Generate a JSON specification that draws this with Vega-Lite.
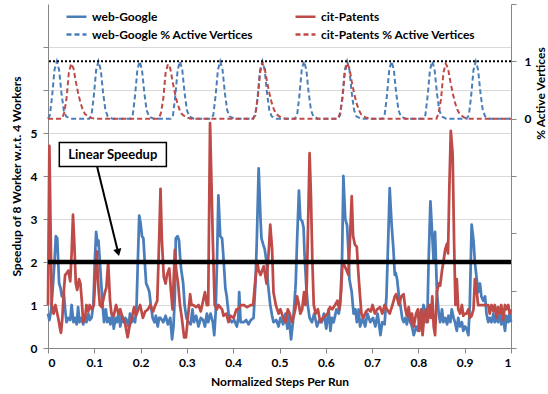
{
"$schema": "https://vega.github.io/schema/vega-lite/v6.json",
"width": 463, "height": 344, "autosize": "none",
"padding": {"left": 48, "top": 4, "right": 37, "bottom": 46},
"background": "white",
"config": {
 "font": "Lato",
 "view": {"stroke": null},
 "axis": {"labelFont": "Lato", "labelFontSize": 12, "labelFontWeight": "bold", "labelColor": "#000000", "titleFont": "Lato", "titleFontSize": 12, "titleFontWeight": "bold", "titleColor": "#000000", "domainColor": "#868686", "tickColor": "#868686", "gridColor": "#d9d9d9", "tickSize": 5}
},
"datasets": {
 "speedup": [
{"series":"web-Google","step":0.000,"speedup":0.8},{"series":"web-Google","step":0.003,"speedup":0.65},{"series":"web-Google","step":0.007,"speedup":0.9},{"series":"web-Google","step":0.011,"speedup":1.5},{"series":"web-Google","step":0.014,"speedup":2.0},{"series":"web-Google","step":0.017,"speedup":2.6},{"series":"web-Google","step":0.020,"speedup":2.55},{"series":"web-Google","step":0.024,"speedup":1.5},{"series":"web-Google","step":0.027,"speedup":1.4},{"series":"web-Google","step":0.030,"speedup":1.2},{"series":"web-Google","step":0.034,"speedup":1.3},{"series":"web-Google","step":0.037,"speedup":0.9},{"series":"web-Google","step":0.040,"speedup":0.6},{"series":"web-Google","step":0.044,"speedup":0.7},{"series":"web-Google","step":0.048,"speedup":0.65},{"series":"web-Google","step":0.051,"speedup":1.0},{"series":"web-Google","step":0.055,"speedup":0.6},{"series":"web-Google","step":0.058,"speedup":0.7},{"series":"web-Google","step":0.062,"speedup":0.55},{"series":"web-Google","step":0.065,"speedup":0.95},{"series":"web-Google","step":0.068,"speedup":0.6},{"series":"web-Google","step":0.072,"speedup":0.7},{"series":"web-Google","step":0.076,"speedup":0.55},{"series":"web-Google","step":0.080,"speedup":0.75},{"series":"web-Google","step":0.083,"speedup":0.6},{"series":"web-Google","step":0.087,"speedup":0.8},{"series":"web-Google","step":0.090,"speedup":0.65},{"series":"web-Google","step":0.094,"speedup":0.7},{"series":"web-Google","step":0.098,"speedup":1.0},{"series":"web-Google","step":0.101,"speedup":2.0},{"series":"web-Google","step":0.104,"speedup":2.7},{"series":"web-Google","step":0.107,"speedup":2.4},{"series":"web-Google","step":0.109,"speedup":2.5},{"series":"web-Google","step":0.112,"speedup":2.0},{"series":"web-Google","step":0.115,"speedup":1.5},{"series":"web-Google","step":0.118,"speedup":1.0},{"series":"web-Google","step":0.121,"speedup":0.6},{"series":"web-Google","step":0.125,"speedup":0.9},{"series":"web-Google","step":0.128,"speedup":0.6},{"series":"web-Google","step":0.132,"speedup":0.7},{"series":"web-Google","step":0.135,"speedup":0.55},{"series":"web-Google","step":0.139,"speedup":0.8},{"series":"web-Google","step":0.142,"speedup":0.45},{"series":"web-Google","step":0.146,"speedup":0.7},{"series":"web-Google","step":0.149,"speedup":0.6},{"series":"web-Google","step":0.153,"speedup":0.85},{"series":"web-Google","step":0.156,"speedup":0.5},{"series":"web-Google","step":0.160,"speedup":0.75},{"series":"web-Google","step":0.163,"speedup":0.6},{"series":"web-Google","step":0.167,"speedup":0.7},{"series":"web-Google","step":0.170,"speedup":0.65},{"series":"web-Google","step":0.174,"speedup":0.5},{"series":"web-Google","step":0.177,"speedup":0.8},{"series":"web-Google","step":0.181,"speedup":0.6},{"series":"web-Google","step":0.184,"speedup":0.7},{"series":"web-Google","step":0.188,"speedup":0.6},{"series":"web-Google","step":0.191,"speedup":0.9},{"series":"web-Google","step":0.194,"speedup":2.0},{"series":"web-Google","step":0.197,"speedup":3.08},{"series":"web-Google","step":0.200,"speedup":2.9},{"series":"web-Google","step":0.203,"speedup":2.6},{"series":"web-Google","step":0.206,"speedup":2.55},{"series":"web-Google","step":0.209,"speedup":2.0},{"series":"web-Google","step":0.212,"speedup":1.5},{"series":"web-Google","step":0.216,"speedup":1.4},{"series":"web-Google","step":0.219,"speedup":1.3},{"series":"web-Google","step":0.222,"speedup":1.0},{"series":"web-Google","step":0.226,"speedup":0.7},{"series":"web-Google","step":0.230,"speedup":0.6},{"series":"web-Google","step":0.233,"speedup":0.75},{"series":"web-Google","step":0.237,"speedup":0.5},{"series":"web-Google","step":0.240,"speedup":0.7},{"series":"web-Google","step":0.243,"speedup":0.7},{"series":"web-Google","step":0.249,"speedup":0.6},{"series":"web-Google","step":0.254,"speedup":0.75},{"series":"web-Google","step":0.259,"speedup":0.55},{"series":"web-Google","step":0.264,"speedup":0.7},{"series":"web-Google","step":0.268,"speedup":0.2},{"series":"web-Google","step":0.271,"speedup":0.5},{"series":"web-Google","step":0.274,"speedup":1.2},{"series":"web-Google","step":0.276,"speedup":2.55},{"series":"web-Google","step":0.280,"speedup":2.6},{"series":"web-Google","step":0.283,"speedup":2.5},{"series":"web-Google","step":0.286,"speedup":2.0},{"series":"web-Google","step":0.288,"speedup":1.8},{"series":"web-Google","step":0.292,"speedup":1.5},{"series":"web-Google","step":0.295,"speedup":1.0},{"series":"web-Google","step":0.299,"speedup":0.7},{"series":"web-Google","step":0.303,"speedup":0.6},{"series":"web-Google","step":0.308,"speedup":0.55},{"series":"web-Google","step":0.312,"speedup":0.9},{"series":"web-Google","step":0.315,"speedup":0.6},{"series":"web-Google","step":0.320,"speedup":0.75},{"series":"web-Google","step":0.325,"speedup":0.5},{"series":"web-Google","step":0.330,"speedup":0.7},{"series":"web-Google","step":0.335,"speedup":0.65},{"series":"web-Google","step":0.339,"speedup":0.5},{"series":"web-Google","step":0.343,"speedup":0.8},{"series":"web-Google","step":0.346,"speedup":0.6},{"series":"web-Google","step":0.351,"speedup":0.8},{"series":"web-Google","step":0.356,"speedup":0.6},{"series":"web-Google","step":0.359,"speedup":0.3},{"series":"web-Google","step":0.362,"speedup":0.8},{"series":"web-Google","step":0.365,"speedup":2.0},{"series":"web-Google","step":0.368,"speedup":3.55},{"series":"web-Google","step":0.372,"speedup":2.6},{"series":"web-Google","step":0.376,"speedup":2.55},{"series":"web-Google","step":0.379,"speedup":2.1},{"series":"web-Google","step":0.383,"speedup":1.4},{"series":"web-Google","step":0.386,"speedup":1.2},{"series":"web-Google","step":0.391,"speedup":0.7},{"series":"web-Google","step":0.397,"speedup":0.6},{"series":"web-Google","step":0.402,"speedup":0.65},{"series":"web-Google","step":0.408,"speedup":0.5},{"series":"web-Google","step":0.411,"speedup":0.7},{"series":"web-Google","step":0.413,"speedup":1.3},{"series":"web-Google","step":0.416,"speedup":0.6},{"series":"web-Google","step":0.423,"speedup":0.6},{"series":"web-Google","step":0.428,"speedup":0.65},{"series":"web-Google","step":0.433,"speedup":0.55},{"series":"web-Google","step":0.438,"speedup":0.65},{"series":"web-Google","step":0.444,"speedup":0.7},{"series":"web-Google","step":0.448,"speedup":1.5},{"series":"web-Google","step":0.451,"speedup":2.5},{"series":"web-Google","step":0.455,"speedup":4.18},{"series":"web-Google","step":0.459,"speedup":3.0},{"series":"web-Google","step":0.461,"speedup":2.55},{"series":"web-Google","step":0.465,"speedup":2.4},{"series":"web-Google","step":0.468,"speedup":2.3},{"series":"web-Google","step":0.472,"speedup":2.0},{"series":"web-Google","step":0.475,"speedup":1.5},{"series":"web-Google","step":0.480,"speedup":1.0},{"series":"web-Google","step":0.484,"speedup":0.75},{"series":"web-Google","step":0.487,"speedup":0.6},{"series":"web-Google","step":0.493,"speedup":0.65},{"series":"web-Google","step":0.498,"speedup":0.5},{"series":"web-Google","step":0.502,"speedup":0.7},{"series":"web-Google","step":0.508,"speedup":0.55},{"series":"web-Google","step":0.513,"speedup":0.8},{"series":"web-Google","step":0.517,"speedup":0.45},{"series":"web-Google","step":0.520,"speedup":0.75},{"series":"web-Google","step":0.525,"speedup":0.2},{"series":"web-Google","step":0.529,"speedup":0.6},{"series":"web-Google","step":0.532,"speedup":1.0},{"series":"web-Google","step":0.535,"speedup":1.5},{"series":"web-Google","step":0.538,"speedup":2.5},{"series":"web-Google","step":0.542,"speedup":3.66},{"series":"web-Google","step":0.545,"speedup":3.0},{"series":"web-Google","step":0.549,"speedup":2.95},{"series":"web-Google","step":0.552,"speedup":2.8},{"series":"web-Google","step":0.554,"speedup":2.2},{"series":"web-Google","step":0.558,"speedup":1.4},{"series":"web-Google","step":0.561,"speedup":1.0},{"series":"web-Google","step":0.565,"speedup":0.7},{"series":"web-Google","step":0.570,"speedup":0.6},{"series":"web-Google","step":0.575,"speedup":0.8},{"series":"web-Google","step":0.581,"speedup":0.5},{"series":"web-Google","step":0.586,"speedup":0.65},{"series":"web-Google","step":0.591,"speedup":0.6},{"series":"web-Google","step":0.596,"speedup":0.8},{"series":"web-Google","step":0.601,"speedup":0.45},{"series":"web-Google","step":0.606,"speedup":0.9},{"series":"web-Google","step":0.610,"speedup":0.4},{"series":"web-Google","step":0.613,"speedup":0.7},{"series":"web-Google","step":0.617,"speedup":0.6},{"series":"web-Google","step":0.623,"speedup":0.9},{"series":"web-Google","step":0.628,"speedup":0.8},{"series":"web-Google","step":0.631,"speedup":1.0},{"series":"web-Google","step":0.635,"speedup":2.0},{"series":"web-Google","step":0.638,"speedup":4.0},{"series":"web-Google","step":0.642,"speedup":3.0},{"series":"web-Google","step":0.646,"speedup":2.85},{"series":"web-Google","step":0.649,"speedup":2.2},{"series":"web-Google","step":0.651,"speedup":1.6},{"series":"web-Google","step":0.656,"speedup":1.3},{"series":"web-Google","step":0.660,"speedup":0.8},{"series":"web-Google","step":0.664,"speedup":0.9},{"series":"web-Google","step":0.667,"speedup":0.6},{"series":"web-Google","step":0.671,"speedup":0.9},{"series":"web-Google","step":0.674,"speedup":0.5},{"series":"web-Google","step":0.680,"speedup":0.7},{"series":"web-Google","step":0.685,"speedup":0.5},{"series":"web-Google","step":0.690,"speedup":0.8},{"series":"web-Google","step":0.696,"speedup":0.6},{"series":"web-Google","step":0.702,"speedup":0.7},{"series":"web-Google","step":0.707,"speedup":0.5},{"series":"web-Google","step":0.712,"speedup":0.8},{"series":"web-Google","step":0.718,"speedup":0.3},{"series":"web-Google","step":0.722,"speedup":0.6},{"series":"web-Google","step":0.727,"speedup":0.55},{"series":"web-Google","step":0.731,"speedup":1.2},{"series":"web-Google","step":0.735,"speedup":2.6},{"series":"web-Google","step":0.738,"speedup":3.72},{"series":"web-Google","step":0.742,"speedup":2.9},{"series":"web-Google","step":0.746,"speedup":2.3},{"series":"web-Google","step":0.749,"speedup":1.7},{"series":"web-Google","step":0.751,"speedup":1.75},{"series":"web-Google","step":0.754,"speedup":1.6},{"series":"web-Google","step":0.758,"speedup":1.2},{"series":"web-Google","step":0.761,"speedup":1.0},{"series":"web-Google","step":0.765,"speedup":0.7},{"series":"web-Google","step":0.768,"speedup":0.6},{"series":"web-Google","step":0.772,"speedup":0.7},{"series":"web-Google","step":0.775,"speedup":0.55},{"series":"web-Google","step":0.779,"speedup":0.75},{"series":"web-Google","step":0.783,"speedup":0.6},{"series":"web-Google","step":0.786,"speedup":0.5},{"series":"web-Google","step":0.790,"speedup":0.3},{"series":"web-Google","step":0.795,"speedup":0.5},{"series":"web-Google","step":0.799,"speedup":0.4},{"series":"web-Google","step":0.804,"speedup":0.75},{"series":"web-Google","step":0.808,"speedup":0.7},{"series":"web-Google","step":0.811,"speedup":1.0},{"series":"web-Google","step":0.815,"speedup":0.8},{"series":"web-Google","step":0.817,"speedup":0.6},{"series":"web-Google","step":0.820,"speedup":1.0},{"series":"web-Google","step":0.822,"speedup":2.0},{"series":"web-Google","step":0.826,"speedup":3.41},{"series":"web-Google","step":0.829,"speedup":2.8},{"series":"web-Google","step":0.833,"speedup":2.0},{"series":"web-Google","step":0.836,"speedup":2.7},{"series":"web-Google","step":0.840,"speedup":1.3},{"series":"web-Google","step":0.844,"speedup":0.8},{"series":"web-Google","step":0.847,"speedup":0.6},{"series":"web-Google","step":0.851,"speedup":0.9},{"series":"web-Google","step":0.854,"speedup":0.6},{"series":"web-Google","step":0.858,"speedup":0.7},{"series":"web-Google","step":0.862,"speedup":0.55},{"series":"web-Google","step":0.865,"speedup":0.75},{"series":"web-Google","step":0.869,"speedup":0.6},{"series":"web-Google","step":0.872,"speedup":0.9},{"series":"web-Google","step":0.876,"speedup":0.7},{"series":"web-Google","step":0.879,"speedup":0.6},{"series":"web-Google","step":0.883,"speedup":0.4},{"series":"web-Google","step":0.886,"speedup":0.7},{"series":"web-Google","step":0.890,"speedup":0.5},{"series":"web-Google","step":0.894,"speedup":0.6},{"series":"web-Google","step":0.897,"speedup":0.4},{"series":"web-Google","step":0.901,"speedup":0.5},{"series":"web-Google","step":0.904,"speedup":0.45},{"series":"web-Google","step":0.908,"speedup":0.3},{"series":"web-Google","step":0.911,"speedup":1.0},{"series":"web-Google","step":0.915,"speedup":2.87},{"series":"web-Google","step":0.919,"speedup":2.5},{"series":"web-Google","step":0.922,"speedup":2.0},{"series":"web-Google","step":0.926,"speedup":1.6},{"series":"web-Google","step":0.929,"speedup":1.3},{"series":"web-Google","step":0.933,"speedup":1.5},{"series":"web-Google","step":0.936,"speedup":1.2},{"series":"web-Google","step":0.940,"speedup":1.1},{"series":"web-Google","step":0.944,"speedup":1.2},{"series":"web-Google","step":0.947,"speedup":0.8},{"series":"web-Google","step":0.951,"speedup":0.6},{"series":"web-Google","step":0.954,"speedup":0.7},{"series":"web-Google","step":0.958,"speedup":0.6},{"series":"web-Google","step":0.962,"speedup":0.8},{"series":"web-Google","step":0.965,"speedup":0.6},{"series":"web-Google","step":0.969,"speedup":0.75},{"series":"web-Google","step":0.972,"speedup":0.6},{"series":"web-Google","step":0.976,"speedup":0.8},{"series":"web-Google","step":0.979,"speedup":0.55},{"series":"web-Google","step":0.983,"speedup":0.7},{"series":"web-Google","step":0.987,"speedup":0.4},{"series":"web-Google","step":0.990,"speedup":0.75},{"series":"web-Google","step":0.994,"speedup":0.6},{"series":"web-Google","step":0.997,"speedup":0.8},{"series":"web-Google","step":1.000,"speedup":0.6},
{"series":"cit-Patents","step":0.000,"speedup":1.0},{"series":"cit-Patents","step":0.003,"speedup":4.7},{"series":"cit-Patents","step":0.008,"speedup":1.0},{"series":"cit-Patents","step":0.012,"speedup":0.8},{"series":"cit-Patents","step":0.016,"speedup":1.0},{"series":"cit-Patents","step":0.018,"speedup":0.9},{"series":"cit-Patents","step":0.022,"speedup":0.7},{"series":"cit-Patents","step":0.026,"speedup":0.45},{"series":"cit-Patents","step":0.028,"speedup":0.35},{"series":"cit-Patents","step":0.031,"speedup":0.7},{"series":"cit-Patents","step":0.034,"speedup":1.3},{"series":"cit-Patents","step":0.037,"speedup":1.7},{"series":"cit-Patents","step":0.041,"speedup":1.75},{"series":"cit-Patents","step":0.044,"speedup":1.8},{"series":"cit-Patents","step":0.048,"speedup":1.55},{"series":"cit-Patents","step":0.051,"speedup":2.2},{"series":"cit-Patents","step":0.054,"speedup":3.1},{"series":"cit-Patents","step":0.057,"speedup":2.4},{"series":"cit-Patents","step":0.060,"speedup":1.5},{"series":"cit-Patents","step":0.063,"speedup":1.35},{"series":"cit-Patents","step":0.067,"speedup":1.6},{"series":"cit-Patents","step":0.070,"speedup":1.5},{"series":"cit-Patents","step":0.073,"speedup":1.1},{"series":"cit-Patents","step":0.076,"speedup":0.6},{"series":"cit-Patents","step":0.080,"speedup":0.7},{"series":"cit-Patents","step":0.083,"speedup":1.0},{"series":"cit-Patents","step":0.087,"speedup":0.85},{"series":"cit-Patents","step":0.090,"speedup":1.0},{"series":"cit-Patents","step":0.094,"speedup":0.9},{"series":"cit-Patents","step":0.099,"speedup":1.0},{"series":"cit-Patents","step":0.102,"speedup":1.6},{"series":"cit-Patents","step":0.105,"speedup":2.25},{"series":"cit-Patents","step":0.109,"speedup":1.4},{"series":"cit-Patents","step":0.112,"speedup":1.0},{"series":"cit-Patents","step":0.116,"speedup":0.95},{"series":"cit-Patents","step":0.119,"speedup":1.1},{"series":"cit-Patents","step":0.123,"speedup":1.3},{"series":"cit-Patents","step":0.126,"speedup":1.4},{"series":"cit-Patents","step":0.130,"speedup":2.0},{"series":"cit-Patents","step":0.134,"speedup":1.1},{"series":"cit-Patents","step":0.137,"speedup":0.8},{"series":"cit-Patents","step":0.142,"speedup":0.75},{"series":"cit-Patents","step":0.147,"speedup":1.0},{"series":"cit-Patents","step":0.152,"speedup":0.8},{"series":"cit-Patents","step":0.156,"speedup":0.9},{"series":"cit-Patents","step":0.161,"speedup":0.7},{"series":"cit-Patents","step":0.166,"speedup":0.6},{"series":"cit-Patents","step":0.172,"speedup":0.25},{"series":"cit-Patents","step":0.176,"speedup":0.5},{"series":"cit-Patents","step":0.181,"speedup":0.7},{"series":"cit-Patents","step":0.186,"speedup":0.95},{"series":"cit-Patents","step":0.190,"speedup":0.75},{"series":"cit-Patents","step":0.195,"speedup":0.9},{"series":"cit-Patents","step":0.199,"speedup":1.0},{"series":"cit-Patents","step":0.205,"speedup":0.7},{"series":"cit-Patents","step":0.210,"speedup":0.85},{"series":"cit-Patents","step":0.216,"speedup":0.9},{"series":"cit-Patents","step":0.221,"speedup":1.0},{"series":"cit-Patents","step":0.227,"speedup":0.85},{"series":"cit-Patents","step":0.232,"speedup":1.0},{"series":"cit-Patents","step":0.236,"speedup":1.1},{"series":"cit-Patents","step":0.240,"speedup":2.5},{"series":"cit-Patents","step":0.243,"speedup":3.7},{"series":"cit-Patents","step":0.246,"speedup":2.5},{"series":"cit-Patents","step":0.250,"speedup":1.65},{"series":"cit-Patents","step":0.254,"speedup":1.5},{"series":"cit-Patents","step":0.257,"speedup":1.7},{"series":"cit-Patents","step":0.262,"speedup":1.85},{"series":"cit-Patents","step":0.265,"speedup":1.4},{"series":"cit-Patents","step":0.269,"speedup":0.9},{"series":"cit-Patents","step":0.274,"speedup":2.28},{"series":"cit-Patents","step":0.277,"speedup":1.8},{"series":"cit-Patents","step":0.281,"speedup":1.5},{"series":"cit-Patents","step":0.285,"speedup":1.0},{"series":"cit-Patents","step":0.289,"speedup":0.7},{"series":"cit-Patents","step":0.294,"speedup":0.25},{"series":"cit-Patents","step":0.298,"speedup":0.25},{"series":"cit-Patents","step":0.303,"speedup":0.8},{"series":"cit-Patents","step":0.307,"speedup":1.25},{"series":"cit-Patents","step":0.310,"speedup":1.0},{"series":"cit-Patents","step":0.314,"speedup":1.0},{"series":"cit-Patents","step":0.320,"speedup":0.95},{"series":"cit-Patents","step":0.325,"speedup":1.0},{"series":"cit-Patents","step":0.330,"speedup":0.85},{"series":"cit-Patents","step":0.335,"speedup":1.1},{"series":"cit-Patents","step":0.339,"speedup":1.3},{"series":"cit-Patents","step":0.343,"speedup":1.0},{"series":"cit-Patents","step":0.346,"speedup":1.0},{"series":"cit-Patents","step":0.350,"speedup":5.23},{"series":"cit-Patents","step":0.356,"speedup":2.5},{"series":"cit-Patents","step":0.360,"speedup":1.0},{"series":"cit-Patents","step":0.365,"speedup":0.9},{"series":"cit-Patents","step":0.368,"speedup":1.0},{"series":"cit-Patents","step":0.376,"speedup":0.9},{"series":"cit-Patents","step":0.379,"speedup":0.75},{"series":"cit-Patents","step":0.385,"speedup":0.8},{"series":"cit-Patents","step":0.390,"speedup":0.6},{"series":"cit-Patents","step":0.394,"speedup":0.75},{"series":"cit-Patents","step":0.401,"speedup":0.7},{"series":"cit-Patents","step":0.407,"speedup":0.9},{"series":"cit-Patents","step":0.412,"speedup":0.9},{"series":"cit-Patents","step":0.416,"speedup":1.0},{"series":"cit-Patents","step":0.423,"speedup":1.0},{"series":"cit-Patents","step":0.430,"speedup":0.95},{"series":"cit-Patents","step":0.438,"speedup":1.0},{"series":"cit-Patents","step":0.443,"speedup":1.0},{"series":"cit-Patents","step":0.448,"speedup":1.6},{"series":"cit-Patents","step":0.452,"speedup":2.0},{"series":"cit-Patents","step":0.455,"speedup":1.8},{"series":"cit-Patents","step":0.459,"speedup":1.7},{"series":"cit-Patents","step":0.466,"speedup":1.9},{"series":"cit-Patents","step":0.472,"speedup":1.5},{"series":"cit-Patents","step":0.477,"speedup":2.3},{"series":"cit-Patents","step":0.480,"speedup":2.87},{"series":"cit-Patents","step":0.484,"speedup":2.3},{"series":"cit-Patents","step":0.487,"speedup":1.3},{"series":"cit-Patents","step":0.492,"speedup":1.0},{"series":"cit-Patents","step":0.498,"speedup":0.8},{"series":"cit-Patents","step":0.502,"speedup":0.9},{"series":"cit-Patents","step":0.508,"speedup":0.7},{"series":"cit-Patents","step":0.513,"speedup":0.6},{"series":"cit-Patents","step":0.518,"speedup":0.9},{"series":"cit-Patents","step":0.522,"speedup":0.8},{"series":"cit-Patents","step":0.527,"speedup":0.6},{"series":"cit-Patents","step":0.531,"speedup":0.75},{"series":"cit-Patents","step":0.534,"speedup":0.9},{"series":"cit-Patents","step":0.538,"speedup":1.2},{"series":"cit-Patents","step":0.542,"speedup":1.0},{"series":"cit-Patents","step":0.545,"speedup":0.8},{"series":"cit-Patents","step":0.549,"speedup":0.9},{"series":"cit-Patents","step":0.553,"speedup":1.3},{"series":"cit-Patents","step":0.556,"speedup":1.0},{"series":"cit-Patents","step":0.559,"speedup":1.5},{"series":"cit-Patents","step":0.563,"speedup":3.5},{"series":"cit-Patents","step":0.565,"speedup":4.53},{"series":"cit-Patents","step":0.568,"speedup":3.5},{"series":"cit-Patents","step":0.571,"speedup":2.0},{"series":"cit-Patents","step":0.574,"speedup":1.0},{"series":"cit-Patents","step":0.578,"speedup":0.8},{"series":"cit-Patents","step":0.583,"speedup":0.9},{"series":"cit-Patents","step":0.588,"speedup":0.6},{"series":"cit-Patents","step":0.594,"speedup":0.7},{"series":"cit-Patents","step":0.599,"speedup":0.75},{"series":"cit-Patents","step":0.604,"speedup":0.8},{"series":"cit-Patents","step":0.609,"speedup":0.95},{"series":"cit-Patents","step":0.614,"speedup":0.9},{"series":"cit-Patents","step":0.620,"speedup":1.0},{"series":"cit-Patents","step":0.625,"speedup":1.1},{"series":"cit-Patents","step":0.629,"speedup":0.9},{"series":"cit-Patents","step":0.633,"speedup":1.3},{"series":"cit-Patents","step":0.636,"speedup":2.0},{"series":"cit-Patents","step":0.641,"speedup":1.9},{"series":"cit-Patents","step":0.645,"speedup":1.8},{"series":"cit-Patents","step":0.649,"speedup":1.7},{"series":"cit-Patents","step":0.652,"speedup":2.5},{"series":"cit-Patents","step":0.656,"speedup":3.53},{"series":"cit-Patents","step":0.659,"speedup":2.6},{"series":"cit-Patents","step":0.663,"speedup":2.4},{"series":"cit-Patents","step":0.667,"speedup":2.35},{"series":"cit-Patents","step":0.670,"speedup":1.8},{"series":"cit-Patents","step":0.674,"speedup":1.2},{"series":"cit-Patents","step":0.677,"speedup":0.8},{"series":"cit-Patents","step":0.681,"speedup":0.7},{"series":"cit-Patents","step":0.687,"speedup":0.85},{"series":"cit-Patents","step":0.692,"speedup":0.9},{"series":"cit-Patents","step":0.697,"speedup":0.85},{"series":"cit-Patents","step":0.701,"speedup":1.0},{"series":"cit-Patents","step":0.706,"speedup":0.8},{"series":"cit-Patents","step":0.711,"speedup":0.9},{"series":"cit-Patents","step":0.717,"speedup":0.95},{"series":"cit-Patents","step":0.722,"speedup":0.8},{"series":"cit-Patents","step":0.727,"speedup":1.0},{"series":"cit-Patents","step":0.732,"speedup":0.9},{"series":"cit-Patents","step":0.738,"speedup":0.8},{"series":"cit-Patents","step":0.744,"speedup":1.0},{"series":"cit-Patents","step":0.749,"speedup":1.2},{"series":"cit-Patents","step":0.752,"speedup":1.25},{"series":"cit-Patents","step":0.758,"speedup":1.0},{"series":"cit-Patents","step":0.763,"speedup":1.2},{"series":"cit-Patents","step":0.768,"speedup":1.25},{"series":"cit-Patents","step":0.772,"speedup":0.9},{"series":"cit-Patents","step":0.775,"speedup":0.75},{"series":"cit-Patents","step":0.779,"speedup":0.95},{"series":"cit-Patents","step":0.783,"speedup":0.6},{"series":"cit-Patents","step":0.786,"speedup":0.8},{"series":"cit-Patents","step":0.790,"speedup":0.5},{"series":"cit-Patents","step":0.795,"speedup":0.8},{"series":"cit-Patents","step":0.799,"speedup":0.9},{"series":"cit-Patents","step":0.802,"speedup":0.4},{"series":"cit-Patents","step":0.806,"speedup":0.9},{"series":"cit-Patents","step":0.809,"speedup":0.3},{"series":"cit-Patents","step":0.813,"speedup":0.8},{"series":"cit-Patents","step":0.817,"speedup":0.9},{"series":"cit-Patents","step":0.820,"speedup":0.6},{"series":"cit-Patents","step":0.824,"speedup":1.0},{"series":"cit-Patents","step":0.827,"speedup":0.7},{"series":"cit-Patents","step":0.830,"speedup":1.2},{"series":"cit-Patents","step":0.833,"speedup":0.5},{"series":"cit-Patents","step":0.836,"speedup":0.3},{"series":"cit-Patents","step":0.840,"speedup":1.3},{"series":"cit-Patents","step":0.844,"speedup":1.5},{"series":"cit-Patents","step":0.847,"speedup":1.45},{"series":"cit-Patents","step":0.851,"speedup":1.8},{"series":"cit-Patents","step":0.854,"speedup":2.0},{"series":"cit-Patents","step":0.858,"speedup":2.3},{"series":"cit-Patents","step":0.862,"speedup":2.43},{"series":"cit-Patents","step":0.864,"speedup":2.2},{"series":"cit-Patents","step":0.867,"speedup":3.8},{"series":"cit-Patents","step":0.870,"speedup":5.05},{"series":"cit-Patents","step":0.874,"speedup":4.5},{"series":"cit-Patents","step":0.877,"speedup":2.5},{"series":"cit-Patents","step":0.880,"speedup":1.0},{"series":"cit-Patents","step":0.883,"speedup":1.6},{"series":"cit-Patents","step":0.886,"speedup":0.9},{"series":"cit-Patents","step":0.890,"speedup":0.8},{"series":"cit-Patents","step":0.894,"speedup":1.0},{"series":"cit-Patents","step":0.897,"speedup":0.75},{"series":"cit-Patents","step":0.901,"speedup":0.8},{"series":"cit-Patents","step":0.904,"speedup":0.8},{"series":"cit-Patents","step":0.908,"speedup":0.9},{"series":"cit-Patents","step":0.911,"speedup":0.7},{"series":"cit-Patents","step":0.915,"speedup":0.75},{"series":"cit-Patents","step":0.919,"speedup":0.9},{"series":"cit-Patents","step":0.922,"speedup":1.6},{"series":"cit-Patents","step":0.926,"speedup":1.3},{"series":"cit-Patents","step":0.929,"speedup":1.0},{"series":"cit-Patents","step":0.933,"speedup":1.0},{"series":"cit-Patents","step":0.936,"speedup":1.0},{"series":"cit-Patents","step":0.944,"speedup":1.0},{"series":"cit-Patents","step":0.951,"speedup":1.0},{"series":"cit-Patents","step":0.954,"speedup":0.8},{"series":"cit-Patents","step":0.958,"speedup":1.0},{"series":"cit-Patents","step":0.962,"speedup":0.85},{"series":"cit-Patents","step":0.965,"speedup":1.0},{"series":"cit-Patents","step":0.969,"speedup":0.7},{"series":"cit-Patents","step":0.972,"speedup":0.95},{"series":"cit-Patents","step":0.976,"speedup":0.8},{"series":"cit-Patents","step":0.979,"speedup":1.0},{"series":"cit-Patents","step":0.983,"speedup":0.65},{"series":"cit-Patents","step":0.987,"speedup":1.0},{"series":"cit-Patents","step":0.990,"speedup":0.9},{"series":"cit-Patents","step":0.994,"speedup":1.0},{"series":"cit-Patents","step":0.997,"speedup":0.8},{"series":"cit-Patents","step":1.000,"speedup":0.9}
 ],
 "active": [
{"series":"web-Google % Active Vertices","step":0.0,"active":0},{"series":"web-Google % Active Vertices","step":0.004,"active":0.06},{"series":"web-Google % Active Vertices","step":0.009,"active":0.4},{"series":"web-Google % Active Vertices","step":0.014,"active":0.85},{"series":"web-Google % Active Vertices","step":0.019,"active":1},{"series":"web-Google % Active Vertices","step":0.024,"active":0.85},{"series":"web-Google % Active Vertices","step":0.029,"active":0.45},{"series":"web-Google % Active Vertices","step":0.034,"active":0.15},{"series":"web-Google % Active Vertices","step":0.039,"active":0.04},{"series":"web-Google % Active Vertices","step":0.049,"active":0},
{"series":"web-Google % Active Vertices","step":0.089,"active":0},{"series":"web-Google % Active Vertices","step":0.094,"active":0.06},{"series":"web-Google % Active Vertices","step":0.099,"active":0.4},{"series":"web-Google % Active Vertices","step":0.104,"active":0.85},{"series":"web-Google % Active Vertices","step":0.109,"active":1},{"series":"web-Google % Active Vertices","step":0.114,"active":0.85},{"series":"web-Google % Active Vertices","step":0.119,"active":0.45},{"series":"web-Google % Active Vertices","step":0.124,"active":0.15},{"series":"web-Google % Active Vertices","step":0.129,"active":0.04},{"series":"web-Google % Active Vertices","step":0.139,"active":0},
{"series":"web-Google % Active Vertices","step":0.178,"active":0},{"series":"web-Google % Active Vertices","step":0.183,"active":0.06},{"series":"web-Google % Active Vertices","step":0.188,"active":0.4},{"series":"web-Google % Active Vertices","step":0.193,"active":0.85},{"series":"web-Google % Active Vertices","step":0.198,"active":1},{"series":"web-Google % Active Vertices","step":0.203,"active":0.85},{"series":"web-Google % Active Vertices","step":0.208,"active":0.45},{"series":"web-Google % Active Vertices","step":0.213,"active":0.15},{"series":"web-Google % Active Vertices","step":0.218,"active":0.04},{"series":"web-Google % Active Vertices","step":0.228,"active":0},
{"series":"web-Google % Active Vertices","step":0.265,"active":0},{"series":"web-Google % Active Vertices","step":0.270,"active":0.06},{"series":"web-Google % Active Vertices","step":0.275,"active":0.4},{"series":"web-Google % Active Vertices","step":0.280,"active":0.85},{"series":"web-Google % Active Vertices","step":0.285,"active":1},{"series":"web-Google % Active Vertices","step":0.290,"active":0.85},{"series":"web-Google % Active Vertices","step":0.295,"active":0.45},{"series":"web-Google % Active Vertices","step":0.300,"active":0.15},{"series":"web-Google % Active Vertices","step":0.305,"active":0.04},{"series":"web-Google % Active Vertices","step":0.315,"active":0},
{"series":"web-Google % Active Vertices","step":0.352,"active":0},{"series":"web-Google % Active Vertices","step":0.357,"active":0.06},{"series":"web-Google % Active Vertices","step":0.362,"active":0.4},{"series":"web-Google % Active Vertices","step":0.367,"active":0.85},{"series":"web-Google % Active Vertices","step":0.372,"active":1},{"series":"web-Google % Active Vertices","step":0.377,"active":0.85},{"series":"web-Google % Active Vertices","step":0.382,"active":0.45},{"series":"web-Google % Active Vertices","step":0.387,"active":0.15},{"series":"web-Google % Active Vertices","step":0.392,"active":0.04},{"series":"web-Google % Active Vertices","step":0.402,"active":0},
{"series":"web-Google % Active Vertices","step":0.443,"active":0},{"series":"web-Google % Active Vertices","step":0.448,"active":0.06},{"series":"web-Google % Active Vertices","step":0.453,"active":0.4},{"series":"web-Google % Active Vertices","step":0.458,"active":0.85},{"series":"web-Google % Active Vertices","step":0.463,"active":1},{"series":"web-Google % Active Vertices","step":0.468,"active":0.85},{"series":"web-Google % Active Vertices","step":0.473,"active":0.45},{"series":"web-Google % Active Vertices","step":0.478,"active":0.15},{"series":"web-Google % Active Vertices","step":0.483,"active":0.04},{"series":"web-Google % Active Vertices","step":0.493,"active":0},
{"series":"web-Google % Active Vertices","step":0.533,"active":0},{"series":"web-Google % Active Vertices","step":0.538,"active":0.06},{"series":"web-Google % Active Vertices","step":0.543,"active":0.4},{"series":"web-Google % Active Vertices","step":0.548,"active":0.85},{"series":"web-Google % Active Vertices","step":0.553,"active":1},{"series":"web-Google % Active Vertices","step":0.558,"active":0.85},{"series":"web-Google % Active Vertices","step":0.563,"active":0.45},{"series":"web-Google % Active Vertices","step":0.568,"active":0.15},{"series":"web-Google % Active Vertices","step":0.573,"active":0.04},{"series":"web-Google % Active Vertices","step":0.583,"active":0},
{"series":"web-Google % Active Vertices","step":0.626,"active":0},{"series":"web-Google % Active Vertices","step":0.631,"active":0.06},{"series":"web-Google % Active Vertices","step":0.636,"active":0.4},{"series":"web-Google % Active Vertices","step":0.641,"active":0.85},{"series":"web-Google % Active Vertices","step":0.646,"active":1},{"series":"web-Google % Active Vertices","step":0.651,"active":0.85},{"series":"web-Google % Active Vertices","step":0.656,"active":0.45},{"series":"web-Google % Active Vertices","step":0.661,"active":0.15},{"series":"web-Google % Active Vertices","step":0.666,"active":0.04},{"series":"web-Google % Active Vertices","step":0.676,"active":0},
{"series":"web-Google % Active Vertices","step":0.722,"active":0},{"series":"web-Google % Active Vertices","step":0.727,"active":0.06},{"series":"web-Google % Active Vertices","step":0.732,"active":0.4},{"series":"web-Google % Active Vertices","step":0.737,"active":0.85},{"series":"web-Google % Active Vertices","step":0.742,"active":1},{"series":"web-Google % Active Vertices","step":0.747,"active":0.85},{"series":"web-Google % Active Vertices","step":0.752,"active":0.45},{"series":"web-Google % Active Vertices","step":0.757,"active":0.15},{"series":"web-Google % Active Vertices","step":0.762,"active":0.04},{"series":"web-Google % Active Vertices","step":0.772,"active":0},
{"series":"web-Google % Active Vertices","step":0.810,"active":0},{"series":"web-Google % Active Vertices","step":0.815,"active":0.06},{"series":"web-Google % Active Vertices","step":0.820,"active":0.4},{"series":"web-Google % Active Vertices","step":0.825,"active":0.85},{"series":"web-Google % Active Vertices","step":0.830,"active":1},{"series":"web-Google % Active Vertices","step":0.835,"active":0.85},{"series":"web-Google % Active Vertices","step":0.840,"active":0.45},{"series":"web-Google % Active Vertices","step":0.845,"active":0.15},{"series":"web-Google % Active Vertices","step":0.850,"active":0.04},{"series":"web-Google % Active Vertices","step":0.860,"active":0},
{"series":"web-Google % Active Vertices","step":0.904,"active":0},{"series":"web-Google % Active Vertices","step":0.909,"active":0.06},{"series":"web-Google % Active Vertices","step":0.914,"active":0.4},{"series":"web-Google % Active Vertices","step":0.919,"active":0.85},{"series":"web-Google % Active Vertices","step":0.924,"active":1},{"series":"web-Google % Active Vertices","step":0.929,"active":0.85},{"series":"web-Google % Active Vertices","step":0.934,"active":0.45},{"series":"web-Google % Active Vertices","step":0.939,"active":0.15},{"series":"web-Google % Active Vertices","step":0.944,"active":0.04},{"series":"web-Google % Active Vertices","step":0.954,"active":0},{"series":"web-Google % Active Vertices","step":1.0,"active":0},
{"series":"cit-Patents % Active Vertices","step":0.0,"active":0},{"series":"cit-Patents % Active Vertices","step":0.030,"active":0},{"series":"cit-Patents % Active Vertices","step":0.035,"active":0.1},{"series":"cit-Patents % Active Vertices","step":0.040,"active":0.35},{"series":"cit-Patents % Active Vertices","step":0.045,"active":0.8},{"series":"cit-Patents % Active Vertices","step":0.050,"active":0.96},{"series":"cit-Patents % Active Vertices","step":0.055,"active":0.88},{"series":"cit-Patents % Active Vertices","step":0.060,"active":0.65},{"series":"cit-Patents % Active Vertices","step":0.065,"active":0.45},{"series":"cit-Patents % Active Vertices","step":0.070,"active":0.28},{"series":"cit-Patents % Active Vertices","step":0.075,"active":0.16},{"series":"cit-Patents % Active Vertices","step":0.080,"active":0.08},{"series":"cit-Patents % Active Vertices","step":0.090,"active":0.02},{"series":"cit-Patents % Active Vertices","step":0.100,"active":0},
{"series":"cit-Patents % Active Vertices","step":0.239,"active":0},{"series":"cit-Patents % Active Vertices","step":0.244,"active":0.1},{"series":"cit-Patents % Active Vertices","step":0.249,"active":0.35},{"series":"cit-Patents % Active Vertices","step":0.254,"active":0.8},{"series":"cit-Patents % Active Vertices","step":0.259,"active":0.95},{"series":"cit-Patents % Active Vertices","step":0.264,"active":0.88},{"series":"cit-Patents % Active Vertices","step":0.269,"active":0.65},{"series":"cit-Patents % Active Vertices","step":0.274,"active":0.45},{"series":"cit-Patents % Active Vertices","step":0.279,"active":0.28},{"series":"cit-Patents % Active Vertices","step":0.284,"active":0.16},{"series":"cit-Patents % Active Vertices","step":0.289,"active":0.08},{"series":"cit-Patents % Active Vertices","step":0.299,"active":0.02},{"series":"cit-Patents % Active Vertices","step":0.309,"active":0},
{"series":"cit-Patents % Active Vertices","step":0.443,"active":0},{"series":"cit-Patents % Active Vertices","step":0.448,"active":0.1},{"series":"cit-Patents % Active Vertices","step":0.453,"active":0.35},{"series":"cit-Patents % Active Vertices","step":0.458,"active":0.8},{"series":"cit-Patents % Active Vertices","step":0.463,"active":0.97},{"series":"cit-Patents % Active Vertices","step":0.468,"active":0.88},{"series":"cit-Patents % Active Vertices","step":0.473,"active":0.65},{"series":"cit-Patents % Active Vertices","step":0.478,"active":0.45},{"series":"cit-Patents % Active Vertices","step":0.483,"active":0.28},{"series":"cit-Patents % Active Vertices","step":0.488,"active":0.16},{"series":"cit-Patents % Active Vertices","step":0.493,"active":0.08},{"series":"cit-Patents % Active Vertices","step":0.503,"active":0.02},{"series":"cit-Patents % Active Vertices","step":0.513,"active":0},
{"series":"cit-Patents % Active Vertices","step":0.626,"active":0},{"series":"cit-Patents % Active Vertices","step":0.631,"active":0.1},{"series":"cit-Patents % Active Vertices","step":0.636,"active":0.35},{"series":"cit-Patents % Active Vertices","step":0.641,"active":0.8},{"series":"cit-Patents % Active Vertices","step":0.646,"active":0.97},{"series":"cit-Patents % Active Vertices","step":0.651,"active":0.88},{"series":"cit-Patents % Active Vertices","step":0.656,"active":0.65},{"series":"cit-Patents % Active Vertices","step":0.661,"active":0.45},{"series":"cit-Patents % Active Vertices","step":0.666,"active":0.28},{"series":"cit-Patents % Active Vertices","step":0.671,"active":0.16},{"series":"cit-Patents % Active Vertices","step":0.676,"active":0.08},{"series":"cit-Patents % Active Vertices","step":0.686,"active":0.02},{"series":"cit-Patents % Active Vertices","step":0.696,"active":0},
{"series":"cit-Patents % Active Vertices","step":0.839,"active":0},{"series":"cit-Patents % Active Vertices","step":0.844,"active":0.1},{"series":"cit-Patents % Active Vertices","step":0.849,"active":0.35},{"series":"cit-Patents % Active Vertices","step":0.854,"active":0.8},{"series":"cit-Patents % Active Vertices","step":0.859,"active":0.96},{"series":"cit-Patents % Active Vertices","step":0.864,"active":0.88},{"series":"cit-Patents % Active Vertices","step":0.869,"active":0.65},{"series":"cit-Patents % Active Vertices","step":0.874,"active":0.45},{"series":"cit-Patents % Active Vertices","step":0.879,"active":0.28},{"series":"cit-Patents % Active Vertices","step":0.884,"active":0.16},{"series":"cit-Patents % Active Vertices","step":0.889,"active":0.08},{"series":"cit-Patents % Active Vertices","step":0.899,"active":0.02},{"series":"cit-Patents % Active Vertices","step":0.909,"active":0},{"series":"cit-Patents % Active Vertices","step":1.0,"active":0}
 ],
 "note": [{"label": "Linear Speedup", "left": 0.0244, "right": 0.2557, "bottom": 4.22, "top": 4.78, "cx": 0.14, "cy": 4.5}],
 "arrow": [{"x0": 0.106, "y0": 4.22, "x1": 0.1515, "y1": 2.22}]
},
"layer": [
  {"data": {"name": "speedup"}, "mark": {"type": "line", "strokeWidth": 2.75, "strokeJoin": "round"},
   "encoding": {
    "x": {"field": "step", "type": "quantitative", "scale": {"domain": [0, 1], "nice": false},
          "axis": {"values": [0,0.1,0.2,0.3,0.4,0.5,0.6,0.7,0.8,0.9,1], "format": "~g", "grid": false, "title": "Normalized Steps Per Run", "labelPadding": 4, "titlePadding": 8}},
    "y": {"field": "speedup", "type": "quantitative", "scale": {"domain": [0, 8], "nice": false},
          "axis": {"orient": "left", "values": [0,1,2,3,4,5,6,7], "labelExpr": "datum.value <= 5 ? datum.label : ''", "title": "Speedup of 8 Worker w.r.t. 4 Workers", "labelPadding": 6, "titleX": -28, "titleY": 172, "titleAngle": 270, "titleAlign": "center", "titleBaseline": "alphabetic"}},
    "color": {"field": "series", "type": "nominal",
      "scale": {"domain": ["web-Google", "web-Google % Active Vertices", "cit-Patents", "cit-Patents % Active Vertices"], "range": ["#4A7EBB", "#4A7EBB", "#BE4B48", "#BE4B48"]},
      "legend": {"orient": "none", "legendX": 17, "legendY": 1, "columns": 2, "title": null, "symbolType": "stroke", "symbolSize": 400, "symbolStrokeWidth": 2.5, "labelFont": "Lato", "labelFontSize": 12, "labelFontWeight": "bold", "labelColor": "#000000", "columnPadding": 36, "rowPadding": -12, "padding": 0, "labelOffset": 4, "labelLimit": 300}},
    "strokeDash": {"field": "series", "type": "nominal",
      "scale": {"domain": ["web-Google", "web-Google % Active Vertices", "cit-Patents", "cit-Patents % Active Vertices"], "range": [[1,0],[5,3],[1,0],[5,3]]},
      "legend": {"orient": "none", "legendX": 17, "legendY": 1, "columns": 2, "title": null, "symbolType": "stroke", "symbolSize": 400, "symbolStrokeWidth": 2.5, "labelFont": "Lato", "labelFontSize": 12, "labelFontWeight": "bold", "labelColor": "#000000", "columnPadding": 36, "rowPadding": -12, "padding": 0, "labelOffset": 4, "labelLimit": 300}}
   }},
  {"data": {"name": "active"}, "mark": {"type": "line", "strokeWidth": 2},
   "encoding": {
    "x": {"field": "step", "type": "quantitative"},
    "y": {"field": "active", "type": "quantitative", "scale": {"domain": [-4, 2], "nice": false},
          "axis": {"orient": "right", "values": [-4,-3,-2,-1,0,1,2], "grid": false, "labelExpr": "datum.value == 0 || datum.value == 1 ? datum.label : ''", "title": "% Active Vertices", "labelPadding": 8, "titleAngle": 270, "titleX": 33, "titleY": 89, "titleAlign": "center", "titleBaseline": "alphabetic"}},
    "color": {"field": "series", "type": "nominal",
      "scale": {"domain": ["web-Google", "web-Google % Active Vertices", "cit-Patents", "cit-Patents % Active Vertices"], "range": ["#4A7EBB", "#4A7EBB", "#BE4B48", "#BE4B48"]},
      "legend": {"orient": "none", "legendX": 17, "legendY": 1, "columns": 2, "title": null, "symbolType": "stroke", "symbolSize": 400, "symbolStrokeWidth": 2.5, "labelFont": "Lato", "labelFontSize": 12, "labelFontWeight": "bold", "labelColor": "#000000", "columnPadding": 36, "rowPadding": -12, "padding": 0, "labelOffset": 4, "labelLimit": 300}},
    "strokeDash": {"field": "series", "type": "nominal",
      "scale": {"domain": ["web-Google", "web-Google % Active Vertices", "cit-Patents", "cit-Patents % Active Vertices"], "range": [[1,0],[5,3],[1,0],[5,3]]},
      "legend": {"orient": "none", "legendX": 17, "legendY": 1, "columns": 2, "title": null, "symbolType": "stroke", "symbolSize": 400, "symbolStrokeWidth": 2.5, "labelFont": "Lato", "labelFontSize": 12, "labelFontWeight": "bold", "labelColor": "#000000", "columnPadding": 36, "rowPadding": -12, "padding": 0, "labelOffset": 4, "labelLimit": 300}}
   }},
  {"data": {"values": [{}]}, "mark": {"type": "rule", "color": "#000000", "strokeWidth": 2, "strokeDash": [2, 2]}, "encoding": {"y": {"datum": 1, "scale": {"domain": [-4, 2], "nice": false}, "axis": null}}},
  {"data": {"values": [{}]}, "mark": {"type": "rule", "color": "#000000", "strokeWidth": 4.5}, "encoding": {"y": {"datum": 2, "scale": {"domain": [0, 8], "nice": false}, "axis": null}}},
  {"data": {"name": "arrow"}, "mark": {"type": "rule", "color": "#000000", "strokeWidth": 2}, "encoding": {"x": {"field": "x0", "type": "quantitative"}, "y": {"field": "y0", "type": "quantitative", "scale": {"domain": [0, 8], "nice": false}, "axis": null}, "x2": {"field": "x1"}, "y2": {"field": "y1"}}},
  {"data": {"name": "arrow"}, "mark": {"type": "point", "shape": "triangle-down", "filled": true, "color": "#000000", "size": 70, "angle": -13.7, "opacity": 1}, "encoding": {"x": {"field": "x1", "type": "quantitative"}, "y": {"field": "y1", "type": "quantitative", "scale": {"domain": [0, 8], "nice": false}, "axis": null}}},
  {"data": {"name": "note"}, "mark": {"type": "rect", "fill": "#ffffff", "stroke": "#000000", "strokeWidth": 1.5}, "encoding": {"x": {"field": "left", "type": "quantitative"}, "x2": {"field": "right"}, "y": {"field": "bottom", "type": "quantitative", "scale": {"domain": [0, 8], "nice": false}, "axis": null}, "y2": {"field": "top"}}},
  {"data": {"name": "note"}, "mark": {"type": "text", "font": "Lato", "fontSize": 13, "fontWeight": "bold", "color": "#000000", "align": "center", "baseline": "middle"}, "encoding": {"x": {"field": "cx", "type": "quantitative"}, "y": {"field": "cy", "type": "quantitative", "scale": {"domain": [0, 8], "nice": false}, "axis": null}, "text": {"field": "label"}}}
],
"resolve": {"scale": {"y": "independent"}}
}
